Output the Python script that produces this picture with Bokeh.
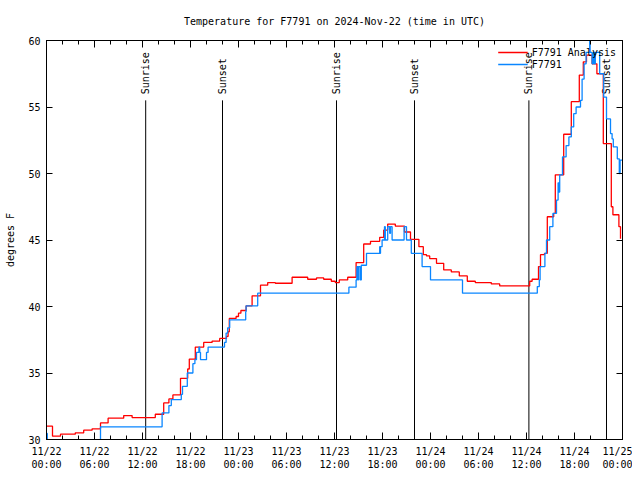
import numpy as np
import pandas as pd
from bokeh.plotting import figure
from bokeh.models import (LinearAxis, FixedTicker, DatetimeTickFormatter, Range1d,
                          Legend, LegendItem, CustomJSTickFormatter)
from bokeh.core.properties import value
from bokeh.embed import file_html
from bokeh.resources import INLINE

START = pd.Timestamp("2024-11-22 00:00")
SPAN_HOURS = 72

# Analysis (red) — hours after 11/22 00:00 UTC, degrees F
analysis_hours = [0.0, 0.75, 1.75, 3.6, 4.65, 5.7, 6.75, 7.7, 9.65, 10.7, 13.6, 14.65, 15.3, 15.8,
                  16.75, 17.65, 17.85, 18.6, 19.65, 20.7, 21.65, 22.5, 22.7, 22.85, 23.7, 24.0, 24.3,
                  24.95, 25.7, 26.75, 27.65, 28.6, 30.7, 32.65, 33.75, 34.65, 35.6, 36.1, 36.6, 37.65,
                  38.7, 39.65, 40.5, 41.65, 42.15, 42.65, 43.6, 44.75, 45.5, 46.55, 47.1, 47.5, 47.9,
                  48.75, 49.65, 50.6, 51.6, 52.6, 53.6, 55.6, 56.65, 60.4, 60.7, 61.5, 61.75, 62.25,
                  62.6, 63.4, 63.6, 64.65, 65.6, 66.6, 67.1, 67.5, 68.2, 68.8, 69.6, 70.6, 70.8, 71.55,
                  71.75]
analysis_temp = [31.0, 30.25, 30.4, 30.5, 30.7, 30.8, 31.25, 31.6, 31.8, 31.65, 31.9, 32.75, 33.05,
                 33.35, 34.6, 35.3, 36.05, 36.95, 37.3, 37.4, 37.6, 37.75, 38.1, 39.1, 39.25, 39.5,
                 39.7, 40.05, 40.8, 41.6, 41.8, 41.75, 42.2, 42.05, 42.15, 42.05, 41.9, 41.8, 42.0,
                 42.2, 43.3, 44.7, 44.9, 45.2, 45.75, 46.2, 46.05, 45.6, 45.05, 44.5, 43.9, 43.8, 43.6,
                 43.25, 42.75, 42.6, 42.3, 41.9, 41.8, 41.7, 41.55, 41.9, 42.05, 43.0, 43.9, 44.0,
                 46.75, 47.0, 49.9, 52.95, 55.4, 57.4, 58.4, 58.9, 58.25, 57.5, 52.25, 47.5, 46.9,
                 46.0, 45.1]

# Observations (blue)
obs_hours = [0.0, 0.1, 6.75, 14.45, 15.3, 15.6, 16.85, 17.0, 17.6, 18.3, 18.55, 18.75, 19.05, 19.15,
             19.25, 20.0, 20.2, 22.25, 22.45, 22.65, 22.9, 24.9, 24.95, 26.4, 37.8, 38.7, 38.8, 38.9,
             39.0, 39.2, 39.35, 40.0, 41.65, 41.7, 41.75, 41.95, 42.25, 42.35, 42.65, 42.9, 43.0,
             43.2, 44.7, 45.0, 45.6, 46.95, 48.0, 52.0, 61.35, 61.6, 61.7, 62.3, 62.5, 62.9, 63.3,
             63.75, 63.95, 64.05, 64.15, 64.5, 64.95, 65.3, 65.6, 65.9, 66.2, 66.75, 66.95, 67.2,
             67.45, 67.9, 67.95, 68.2, 68.35, 68.5, 68.6, 69.15, 69.65, 70.0, 70.5, 70.7, 70.85,
             71.35, 71.6, 71.7, 72.0]
obs_temp = [30.45, 29.5, 30.95, 32.0, 32.55, 33.0, 33.4, 34.0, 35.0, 35.7, 36.0, 36.55, 36.95, 36.55,
            36.0, 36.55, 36.95, 37.3, 38.0, 38.4, 39.0, 39.6, 40.05, 41.0, 41.45, 42.0, 43.0, 42.0,
            43.0, 42.0, 43.1, 44.0, 44.5, 44.0, 44.5, 45.0, 46.0, 45.0, 46.0, 45.5, 46.0, 45.0, 46.0,
            45.0, 44.0, 43.0, 42.0, 41.0, 41.5, 42.0, 43.0, 44.0, 45.0, 46.0, 47.0, 48.0, 49.3, 48.6,
            49.9, 51.25, 52.1, 52.75, 53.5, 54.5, 55.0, 55.5, 57.1, 58.25, 59.1, 60.0, 59.1, 58.25,
            59.1, 58.25, 59.1, 57.5, 55.75, 54.1, 53.0, 52.6, 52.0, 51.1, 50.0, 51.0, 51.0]

sun_hours = [12.4, 22.0, 36.25, 46.0, 60.3, 70.0]
sun_labels = ["Sunrise", "Sunset", "Sunrise", "Sunset", "Sunrise", "Sunset"]

x_major_hours = list(range(0, 73, 6))
x_minor_hours = list(range(0, 73, 2))
y_ticks = [30, 35, 40, 45, 50, 55, 60]
Y_MIN, Y_MAX = 30, 60

FONT = "DejaVu Sans Mono"


def to_dt(hours):
    return START + pd.to_timedelta(np.asarray(hours, dtype=float), unit="h")


def to_ms(hours):
    return [(START + pd.Timedelta(hours=h)).value / 1e6 for h in hours]


p = figure(width=632, height=472, x_axis_type="datetime", output_backend="svg",
           toolbar_location=None,
           x_range=Range1d(START, START + pd.Timedelta(hours=SPAN_HOURS)),
           y_range=Range1d(Y_MIN, Y_MAX),
           min_border_left=46, min_border_right=10, min_border_top=40, min_border_bottom=32)

p.title.text = "Temperature for F7791 on 2024-Nov-22 (time in UTC)"
p.title.align = "center"
p.title.text_font = FONT
p.title.text_font_size = "10px"
p.title.text_font_style = "normal"
p.title.text_color = "black"
p.title.offset = 0
p.title.standoff = 27

p.grid.visible = False
p.outline_line_color = "black"
p.outline_line_width = 1
p.background_fill_color = "white"
p.border_fill_color = "white"

fmt = "%m/%d\n%H:%M"
xax = p.xaxis[0]
xax.ticker = FixedTicker(ticks=to_ms(x_major_hours), minor_ticks=to_ms(x_minor_hours))
xax.formatter = DatetimeTickFormatter(microseconds=fmt, milliseconds=fmt, seconds=fmt, minsec=fmt,
                                      minutes=fmt, hourmin=fmt, hours=fmt, days=fmt, months=fmt,
                                      years=fmt)
yax = p.yaxis[0]
yax.ticker = FixedTicker(ticks=y_ticks)
yax.axis_label = "degrees F"

for ax in (xax, yax):
    ax.major_label_text_font = FONT
    ax.major_label_text_font_size = "10px"
    ax.major_label_text_color = "black"
    ax.axis_label_text_font = FONT
    ax.axis_label_text_font_size = "10px"
    ax.axis_label_text_font_style = "normal"
    ax.axis_label_text_color = "black"
    ax.axis_line_color = "black"
    ax.major_tick_out = 0
    ax.minor_tick_out = 0
    ax.major_tick_line_color = "black"
    ax.minor_tick_line_color = "black"

xax.major_tick_in = 7
xax.minor_tick_in = 4
xax.major_label_standoff = 6
yax.major_tick_in = 6
yax.minor_tick_line_color = None
yax.major_label_standoff = 6
yax.axis_label_standoff = 9

blank = CustomJSTickFormatter(code="return ''")
top = LinearAxis(ticker=FixedTicker(ticks=to_ms(x_major_hours), minor_ticks=to_ms(x_minor_hours)),
                 formatter=blank, major_tick_in=7, major_tick_out=0, minor_tick_in=4,
                 minor_tick_out=0, major_label_standoff=0, major_label_text_font_size="1px")
right = LinearAxis(ticker=FixedTicker(ticks=y_ticks), formatter=blank, major_tick_in=6,
                   major_tick_out=0, minor_tick_line_color=None, major_label_standoff=0,
                   major_label_text_font_size="1px")
p.add_layout(top, "above")
p.add_layout(right, "right")

# sunrise / sunset markers
sun_x = to_dt(sun_hours)
p.segment(x0=sun_x, y0=Y_MIN, x1=sun_x, y1=55.5, line_color="black", line_width=1)
p.text(x=sun_x, y=55.95, text=sun_labels, angle=np.pi / 2, text_align="left",
       text_baseline="middle", text_font=value(FONT), text_font_size=value("10px"),
       text_color="black")

r_red = p.step(to_dt(analysis_hours), analysis_temp, mode="after", line_color="#ff0000",
               line_width=1.3)
r_blue = p.step(to_dt(obs_hours), obs_temp, mode="after", line_color="#0a86ff", line_width=1.3)

legend = Legend(items=[LegendItem(label="F7791 Analysis", renderers=[r_red]),
                       LegendItem(label="F7791", renderers=[r_blue])],
                location="top_right")
legend.background_fill_alpha = 0
legend.border_line_alpha = 0
legend.label_text_font = FONT
legend.label_text_font_size = "10px"
legend.label_text_color = "black"
legend.glyph_width = 30
legend.glyph_height = 12
legend.label_height = 12
legend.spacing = 0
legend.padding = 2
legend.margin = 4
legend.label_standoff = 4
p.add_layout(legend)

open("out.html", "w").write(file_html(p, INLINE))
